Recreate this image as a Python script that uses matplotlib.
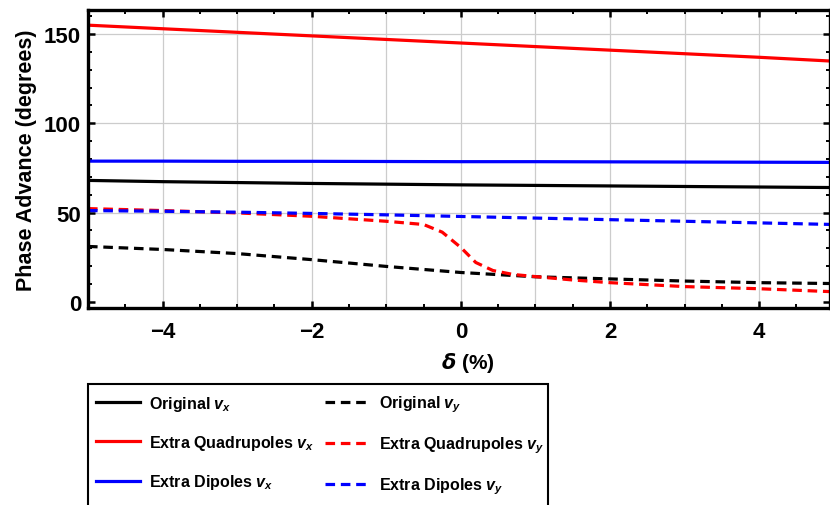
import matplotlib
matplotlib.use("Agg")
import matplotlib.pyplot as plt
from matplotlib.lines import Line2D
from matplotlib.patches import Rectangle
from matplotlib.ticker import MultipleLocator

# ---- data ----
delta = [-5, -4, -3, -2, -1, 0, 1, 2, 3, 4, 5]
orig_x = [68.0, 67.3, 66.8, 66.3, 65.9, 65.5, 65.2, 64.9, 64.6, 64.3, 64.0]
quad_x = [155.0, 153.0, 151.0, 149.0, 147.0, 145.0, 143.0, 141.0, 139.0, 137.0, 134.8]
dip_x = [78.8, 78.8, 78.7, 78.7, 78.6, 78.5, 78.5, 78.4, 78.3, 78.2, 78.1]
orig_y = [31.0, 29.3, 27.0, 23.6, 19.8, 16.4, 14.0, 12.8, 11.6, 10.7, 10.2]
dip_y = [51.1, 50.7, 50.2, 49.5, 48.7, 47.8, 46.9, 46.0, 45.1, 44.2, 43.3]
quad_y_delta = [-5, -4, -3, -2, -1, -0.5, -0.25, 0, 0.2, 0.43, 0.7, 1, 1.5, 2, 3, 4, 5]
quad_y = [52.2, 51.1, 49.8, 47.9, 45.1, 43.3, 39.0, 30.4, 22.0, 17.5, 15.3, 14.1, 12.2, 10.7, 8.5, 7.3, 5.6]
xtick_vals = [-4, -2, 0, 2, 4]
xtick_labels = ["\u22124", "\u22122", "0", "2", "4"]
legend_labels = [
    r"Original $\boldsymbol{v_x}$",
    r"Extra Quadrupoles $\boldsymbol{v_x}$",
    r"Extra Dipoles $\boldsymbol{v_x}$",
    r"Original $\boldsymbol{v_y}$",
    r"Extra Quadrupoles $\boldsymbol{v_y}$",
    r"Extra Dipoles $\boldsymbol{v_y}$",
]

plt.rcParams["mathtext.fontset"] = "custom"
plt.rcParams["mathtext.it"] = "Liberation Sans:italic:bold"
plt.rcParams["mathtext.bf"] = "Liberation Sans:italic:bold"
plt.rcParams["mathtext.rm"] = "Liberation Sans:bold"

W, H = 830, 506
fig = plt.figure(figsize=(W / 100, H / 100), dpi=100)
ax = fig.add_axes([88 / W, 1 - 309 / H, (830 - 88) / W, (309 - 11) / H])

lw = 2.3
dash = (0, (3.0, 1.8))
ax.plot(delta, orig_x, color="black", lw=lw)
ax.plot(delta, quad_x, color="#ff0000", lw=lw)
ax.plot(delta, dip_x, color="#0000ff", lw=lw)
ax.plot(delta, orig_y, color="black", lw=lw, linestyle=dash)
ax.plot(quad_y_delta, quad_y, color="#ff0000", lw=lw, linestyle=dash)
ax.plot(delta, dip_y, color="#0000ff", lw=lw, linestyle=dash)

ax.set_xlim(-5, 4.95)
ax.set_ylim(-3.5, 163.5)

ax.xaxis.set_minor_locator(MultipleLocator(0.5))
ax.yaxis.set_major_locator(MultipleLocator(50))
ax.yaxis.set_minor_locator(MultipleLocator(10))

for x in range(-5, 6):
    ax.axvline(x, color="#cccccc", lw=0.9, zorder=0)
for y in [50, 100, 150]:
    ax.axhline(y, color="#cccccc", lw=0.9, zorder=0)

ax.tick_params(which="both", direction="in", top=True, right=True, colors="black")
ax.tick_params(which="major", length=5, width=1.8, labelsize=16)
ax.tick_params(axis="x", which="major", pad=9)
ax.tick_params(axis="y", which="major", pad=5)
ax.tick_params(which="minor", length=3, width=1.4)
ax.set_xticks(xtick_vals)
ax.set_xticklabels(xtick_labels, fontweight="bold", family="Liberation Sans", fontsize=16)
for lab in ax.get_yticklabels():
    lab.set_fontweight("bold")
    lab.set_family("Liberation Sans")
for s in ax.spines.values():
    s.set_linewidth(2.4)

ax.set_ylabel("Phase Advance (degrees)", fontsize=15.5, fontweight="bold",
              family="Liberation Sans", labelpad=5)
fig.text(468 / W, 1 - 363 / H, r"$\boldsymbol{\delta}$ (%)", fontsize=15,
         fontweight="bold", family="Liberation Sans", ha="center", va="center")

handles = [
    Line2D([], [], color="black", lw=lw),
    Line2D([], [], color="#ff0000", lw=lw),
    Line2D([], [], color="#0000ff", lw=lw),
    Line2D([], [], color="black", lw=lw, linestyle=dash),
    Line2D([], [], color="#ff0000", lw=lw, linestyle=dash),
    Line2D([], [], color="#0000ff", lw=lw, linestyle=dash),
]
leg = fig.legend(handles, legend_labels, ncol=2, loc="upper left",
                 bbox_to_anchor=(86 / W, 1 - 385 / H), borderaxespad=0,
                 prop={"family": "Liberation Sans", "weight": "bold", "size": 11.5},
                 frameon=False,
                 handlelength=2.75, handletextpad=0.6, columnspacing=0.7,
                 labelspacing=1.27, borderpad=0.6)

# legend frame (runs past the bottom of the figure, as in the reference)
fig.patches.append(Rectangle((88 / W, -0.05), (548 - 88) / W, (1 - 385 / H) + 0.05,
                             transform=fig.transFigure, fill=False,
                             edgecolor="black", lw=1.5, zorder=5))

fig.savefig("out.png", dpi=100)
